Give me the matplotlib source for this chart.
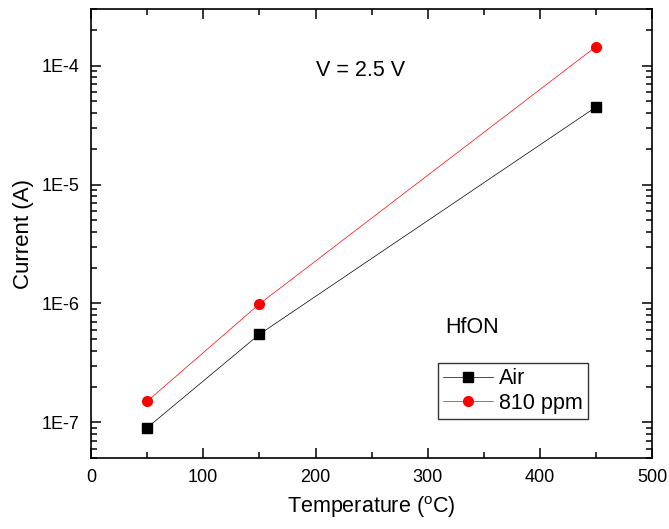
import numpy as np
import matplotlib
matplotlib.use('Agg')
import matplotlib.pyplot as plt
from matplotlib.ticker import FixedLocator, LogLocator, NullFormatter, MultipleLocator

plt.rcParams['font.family'] = ['Liberation Sans', 'DejaVu Sans']
plt.rcParams['mathtext.fontset'] = 'custom'
plt.rcParams['mathtext.rm'] = 'Liberation Sans'

# Data
temp = [50, 150, 450]
air = [9.0e-8, 5.5e-7, 4.5e-5]
ppm810 = [1.5e-7, 9.9e-7, 1.45e-4]

fig = plt.figure(figsize=(6.69, 5.29), dpi=100)
ax = fig.add_axes([0.136, 0.134, 0.839, 0.849])

ax.plot(temp, air, color='k', lw=0.5, marker='s', ms=6.5, label='Air')
ax.plot(temp, ppm810, color='r', lw=0.5, marker='o', ms=7, label='810 ppm')

ax.set_yscale('log')
ax.set_xlim(0, 500)
ax.set_ylim(5e-8, 3e-4)

ax.xaxis.set_major_locator(MultipleLocator(100))
ax.xaxis.set_minor_locator(MultipleLocator(50))
ax.yaxis.set_major_locator(FixedLocator([1e-7, 1e-6, 1e-5, 1e-4]))
ax.yaxis.set_major_formatter(matplotlib.ticker.FuncFormatter(
    lambda v, p: '1E%d' % int(round(np.log10(v)))))
ax.yaxis.set_minor_locator(LogLocator(base=10, subs=np.arange(2, 10), numticks=20))
ax.yaxis.set_minor_formatter(NullFormatter())

ax.tick_params(which='both', direction='in', top=True, right=True, labelsize=13, width=1.1)
ax.tick_params(which='major', length=7, pad=8)
ax.tick_params(which='minor', length=4)
for s in ax.spines.values():
    s.set_linewidth(1.2)

ax.set_xlabel('Temperature ($^\\mathrm{o}$C)', fontsize=15.5, labelpad=6)
ax.set_ylabel('Current (A)', fontsize=16, labelpad=6)

ax.text(200, 9.1e-5, 'V = 2.5 V', fontsize=15.5, va='center')
ax.text(316, 6.3e-7, 'HfON', fontsize=15.5, va='center')

leg = ax.legend(loc='upper left', bbox_to_anchor=(0.618, 0.212), fontsize=15.5,
                frameon=True, fancybox=False, edgecolor='k', handlelength=2.3,
                borderpad=0.25, labelspacing=0.15, handletextpad=0.3,
                borderaxespad=0)
leg.get_frame().set_linewidth(1.0)

fig.savefig('out.png', dpi=100)
